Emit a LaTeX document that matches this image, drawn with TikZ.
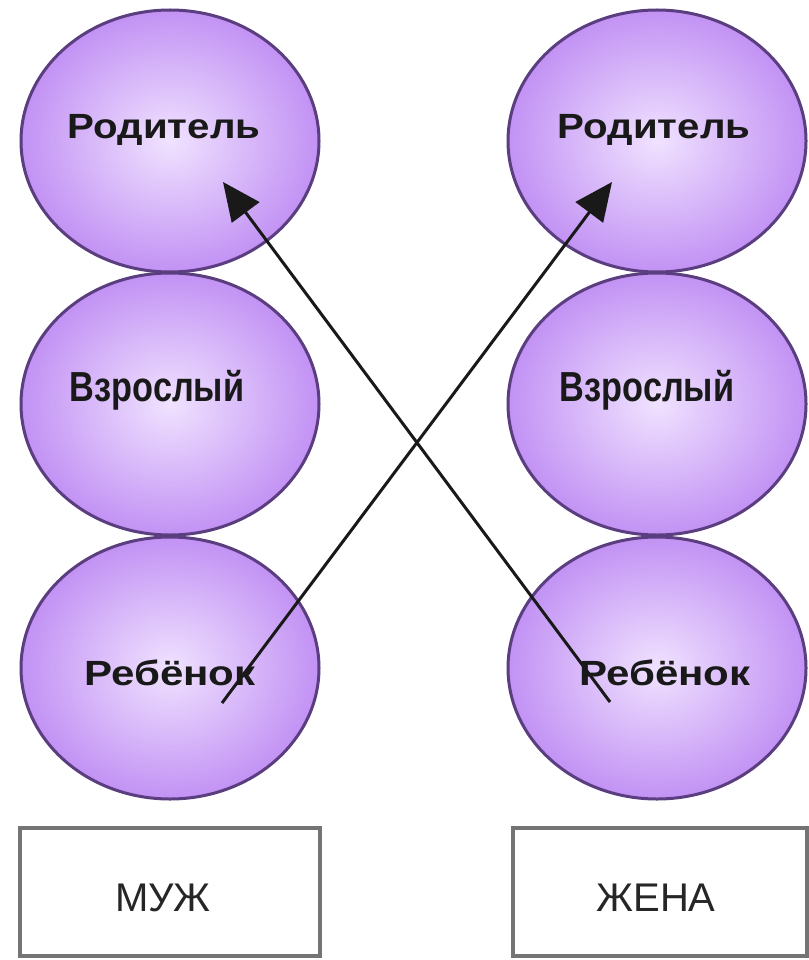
\documentclass[tikz,border=0pt]{standalone}
\usepackage{fontspec}
\setmainfont{Liberation Sans}
\usetikzlibrary{shapes.geometric,arrows.meta}
\definecolor{ballin}{HTML}{F0E2FF}
\definecolor{ballout}{HTML}{C292F4}
\definecolor{ballline}{HTML}{5A3E80}
\definecolor{boxline}{HTML}{747474}
\tikzset{
  ball/.style={ellipse, draw=ballline, line width=3pt, minimum width=298pt,
    minimum height=262pt, inner sep=0pt, inner color=ballin, outer color=ballout},
  lbl/.style={font=\bfseries\fontsize{35}{40}\selectfont, inner sep=0pt, text=black!90},
  person/.style={draw=boxline, line width=3.5pt, fill=white, inner sep=0pt},
  plbl/.style={font=\fontsize{40}{46}\selectfont, inner sep=0pt, text=black!85},
  link/.style={line width=3pt, draw=black!90, -{Triangle[length=38pt,width=34pt]}},
}
\begin{document}
\begin{tikzpicture}[x=1pt,y=-1pt]
\useasboundingbox[fill=white] (0,0) rectangle (808,960);
% balls
\node[ball] (p1) at (170,141) {};
\node[ball] (a1) at (170,404) {};
\node[ball] (c1) at (170,668) {};
\node[ball] (p2) at (657,141) {};
\node[ball] (a2) at (657,404) {};
\node[ball] (c2) at (657,668) {};
% labels
\node[lbl] (tp1) at (164,130) {\scalebox{1.15}[1]{Родитель}};
\node[lbl] (tp2) at (654,130) {\scalebox{1.15}[1]{Родитель}};
\node[lbl] (ta1) at (157,390) {\scalebox{0.98}[1.2]{Взрослый}};
\node[lbl] (ta2) at (647,390) {\scalebox{0.98}[1.2]{Взрослый}};
\node[lbl] (tc1) at (170,673) {\scalebox{1.2}[1]{Ребёнок}};
\node[lbl] (tc2) at (665,673) {\scalebox{1.2}[1]{Ребёнок}};
% boxes
\node[person, minimum width=300pt, minimum height=128pt] (m) at (170,892) {};
\node[person, minimum width=294pt, minimum height=128pt] (w) at (660,892) {};
\node[plbl] (tm) at (163,898) {МУЖ};
\node[plbl] (tw) at (656,898) {ЖЕНА};
% arrows
\coordinate (tailL) at (222,703);
\coordinate (headR) at (612,182);
\coordinate (tailR) at (610,702);
\coordinate (headL) at (223,182);
\draw[link] (tailL) -- (headR);
\draw[link] (tailR) -- (headL);
\end{tikzpicture}
\end{document}
